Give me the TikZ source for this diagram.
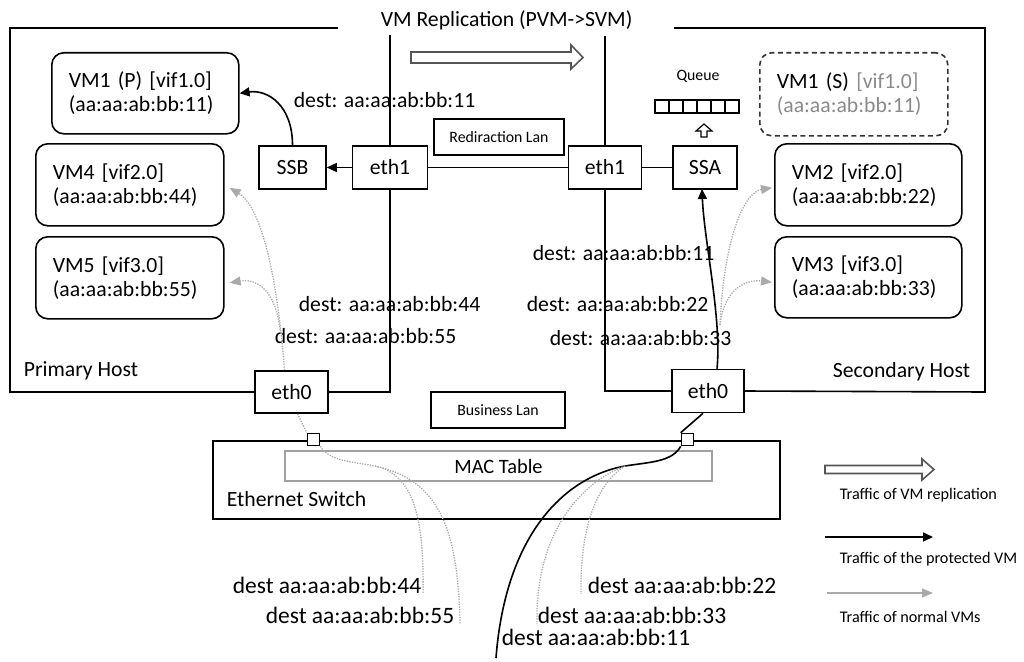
\documentclass[tikz,border=0pt]{standalone}
\usepackage{fontspec}
\setmainfont{Carlito}
\usetikzlibrary{arrows.meta}
\definecolor{traffic}{HTML}{AAAAAA}
\definecolor{repl}{HTML}{555555}
\definecolor{faded}{HTML}{8A8A8A}
\definecolor{dashgray}{HTML}{333333}
\definecolor{macgray}{HTML}{A0A0A0}
\newcommand\fsmain{\fontsize{21.7}{24}\selectfont}
\newcommand\fsdest{\fontsize{23.5}{26}\selectfont}
\newcommand\fssmall{\fontsize{15.8}{18}\selectfont}
\newcommand\fslegend{\fontsize{16.2}{19}\selectfont}
\newcommand\fsmac{\fontsize{20.4}{23}\selectfont}

\begin{document}
\begin{tikzpicture}[x=1pt,y=-1pt,
  line width=1.6pt,
  box/.style={draw, fill=white, inner sep=0pt, font=\fsmain},
  vmbox/.style={draw, rounded corners=12pt, align=left, inner xsep=17pt, inner ysep=0pt, font=\fsmain, anchor=north west},
  lanbox/.style={draw, inner sep=0pt, font=\fssmall},
  port/.style={draw, fill=white, inner sep=0pt, minimum size=12pt},
  lbl/.style={inner sep=0pt, anchor=base west, font=\fsmain},
  dlbl/.style={inner sep=0pt, anchor=base west, font=\fsdest},
  legtxt/.style={inner sep=0pt, anchor=base west, font=\fslegend},
  prot/.style={draw=black, line width=1.6pt, -{Triangle[length=10pt,width=9pt]}},
  norm/.style={draw=traffic, line width=1.3pt, dash pattern=on 1.3pt off 1.3pt},
  normarrow/.style={norm, -{Triangle[length=11pt,width=9pt]}},
  hollow/.style={draw=repl, fill=white, line width=1.6pt, line join=miter},
]
\useasboundingbox (0,0) rectangle (1024,661);

% ---------- interfaces and switch boxes ----------
\node[box, minimum width=75pt, minimum height=43pt] (eth1L) at (390,167.5) {eth1};
\node[box, minimum width=67pt, minimum height=43pt] (ssb)   at (292.5,167.5) {SSB};
\node[box, minimum width=73pt, minimum height=43pt] (eth1R) at (605,167.5) {eth1};
\node[box, minimum width=64pt, minimum height=43pt] (ssa)   at (705,167.5) {SSA};
\node[box, minimum width=73pt, minimum height=42pt] (eth0L) at (291.5,392) {eth0};
\node[box, minimum width=72pt, minimum height=43pt] (eth0R) at (708,391) {eth0};

\node[lanbox, minimum width=130pt, minimum height=36pt] (redir) at (499,137) {Rediraction Lan};
\node[lanbox, minimum width=134pt, minimum height=36pt] (biz)   at (498,410) {Business Lan};

% ---------- host outlines ----------
\draw (338,28) -- (10,28) -- (10,392) -- (eth0L.west);
\draw (eth0L.east) -| (eth1L.south);
\draw (eth1L.north) -- (390,35);
\draw (674,28) -- (985,28) -- (985,392) -- (eth0R.east);
\draw (eth0R.west) -| (eth1R.south);
\draw (eth1R.north) -- (605,36);

\node[lbl] (title) at (380,27) {VM Replication (PVM->SVM)};
\node[lbl] (phost) at (23,376) {Primary Host};
\node[lbl] (shost) at (832,377) {Secondary Host};

% ---------- redirection lan ----------
\draw (eth1L.east) -- (eth1R.west);
\draw (eth1R.east) -- (ssa.west);
\draw[prot] (eth1L.west) -- (ssb.east);

% ---------- virtual machines ----------
\node[vmbox, text width=153pt, minimum height=81pt] (vm1p) at (51,52) {VM1 (P) [vif1.0]\\(aa:aa:ab:bb:11)};
\node[vmbox, text width=154pt, minimum height=82pt] (vm4) at (35,143) {VM4 [vif2.0]\\(aa:aa:ab:bb:44)};
\node[vmbox, text width=154pt, minimum height=82pt] (vm5) at (35,236) {VM5 [vif3.0]\\(aa:aa:ab:bb:55)};
\node[vmbox, draw=dashgray, dash pattern=on 5pt off 3.5pt, text width=154pt, minimum height=83pt] (vm1s) at (759,52)
  {VM1 (S) \textcolor{faded}{[vif1.0]}\\\textcolor{faded}{(aa:aa:ab:bb:11)}};
\node[vmbox, text width=153pt, minimum height=82pt] (vm2) at (774,143) {VM2 [vif2.0]\\(aa:aa:ab:bb:22)};
\node[vmbox, text width=153pt, minimum height=81pt] (vm3) at (774,236) {VM3 [vif3.0]\\(aa:aa:ab:bb:33)};

% ---------- replication arrow ----------
\draw[hollow] (411,52) -- (571,52) -- (571,45) -- (583,57.5) -- (571,69) -- (571,63) -- (411,63) -- cycle;

% ---------- queue of SSA ----------
\node[inner sep=0pt, anchor=base, font=\fssmall] (qlabel) at (698,81) {Queue};
\foreach \i in {0,...,5}
  \draw[line width=1.2pt] (655+14*\i,100) rectangle ++(14,13);
\draw[line width=1.2pt, fill=white, line join=miter]
  (704,124) -- (712,131) -- (707,131) -- (707,137) -- (701,137) -- (701,131) -- (696,131) -- cycle;

% ---------- switch ----------
\node[draw, minimum width=567pt, minimum height=78pt, inner sep=0pt, anchor=north west] (switch) at (212,440) {};
\node[draw=macgray, minimum width=427pt, minimum height=30pt, inner sep=0pt, font=\fsmac] (mac) at (498.5,466) {MAC Table};
\node[lbl] (swlabel) at (226,506) {Ethernet Switch};
\node[port] (portL) at (313.5,439.5) {};
\node[port] (portR) at (687.5,439.5) {};

% ---------- destination labels ----------
\node[lbl] (d11a) at (293,107) {dest: aa:aa:ab:bb:11};
\node[lbl] (d44)  at (298,311) {dest: aa:aa:ab:bb:44};
\node[lbl] (d55)  at (274,343) {dest: aa:aa:ab:bb:55};
\node[lbl] (d11b) at (532,260) {dest: aa:aa:ab:bb:11};
\node[lbl] (d22)  at (526,311) {dest: aa:aa:ab:bb:22};
\node[lbl] (d33)  at (549,345) {dest: aa:aa:ab:bb:33};

\node[dlbl] (l44) at (232,593) {dest aa:aa:ab:bb:44};
\node[dlbl] (l55) at (265,623) {dest aa:aa:ab:bb:55};
\node[dlbl] (l22) at (587,593) {dest aa:aa:ab:bb:22};
\node[dlbl] (l33) at (537,623) {dest aa:aa:ab:bb:33};
\node[dlbl] (l11) at (501,645) {dest aa:aa:ab:bb:11};

% ---------- protected VM traffic ----------
\draw[prot] (ssb.north) .. controls +(0,-40) and +(28,-4) .. (vm1p.east);
\coordinate (rsplit) at (720,325);
\coordinate (ssain) at (702,189);
\draw[prot] ([xshift=9pt]eth0R.north) .. controls (722,320) and (704,240) .. (ssain);
\coordinate (rjoin) at (625,466);
\draw ([xshift=-5pt]eth0R.south) -- (portR.north west);
\draw (portR.south west) .. controls (672,462) and (650,462) .. (rjoin)
      .. controls (560,478) and (505,540) .. ([xshift=-5pt,yshift=-12pt]l11.south west);

% ---------- normal VM traffic ----------
\coordinate (lsplit) at (280,330);
\draw[normarrow] ([xshift=-7pt]eth0L.north) .. controls (276,260) and (258,205) .. ([xshift=5pt,yshift=-3pt]vm4.east);
\draw[normarrow] (lsplit) .. controls (276,292) and (258,278) .. ([xshift=5pt,yshift=-5pt]vm5.east);
\draw[normarrow] (rsplit) .. controls (724,235) and (745,192) .. ([xshift=-2pt,yshift=-3pt]vm2.west);
\draw[normarrow] (rsplit) .. controls (724,290) and (745,279) .. ([xshift=-2pt,yshift=-5pt]vm3.west);

\coordinate (ljoin) at (375,466);
\draw[norm] ([xshift=6pt]eth0L.south) -- (portL.north west);
\draw[norm] (portL.south east) .. controls (330,462) and (355,462) .. (ljoin)
      .. controls (415,475) and (424,520) .. ([xshift=1pt]l44.south east);
\draw[norm] (ljoin) .. controls (440,480) and (458,530) .. ([xshift=5pt]l55.south east);
\draw[norm] (rjoin) .. controls (575,485) and (535,540) .. (l33.south west);
\draw[norm] (rjoin) .. controls (595,485) and (580,530) .. ([xshift=-6pt]l22.south west);

% ---------- legend ----------
\draw[hollow] (825,465.5) -- (922,465.5) -- (922,459) -- (934,469.5) -- (922,480) -- (922,473.5) -- (825,473.5) -- cycle;
\node[legtxt] (leg1) at (839,499) {Traffic of VM replication};
\coordinate (pa) at (825,537);
\coordinate (pb) at (933,537);
\draw[prot] (pa) -- (pb);
\node[legtxt] (leg2) at (839,563) {Traffic of the protected VM};
\coordinate (na) at (827,593);
\coordinate (nb) at (933,593);
\draw[draw=traffic, line width=1.4pt, -{Triangle[length=11pt,width=9pt]}] (na) -- (nb);
\node[legtxt] (leg3) at (839,622) {Traffic of normal VMs};
\end{tikzpicture}
\end{document}
